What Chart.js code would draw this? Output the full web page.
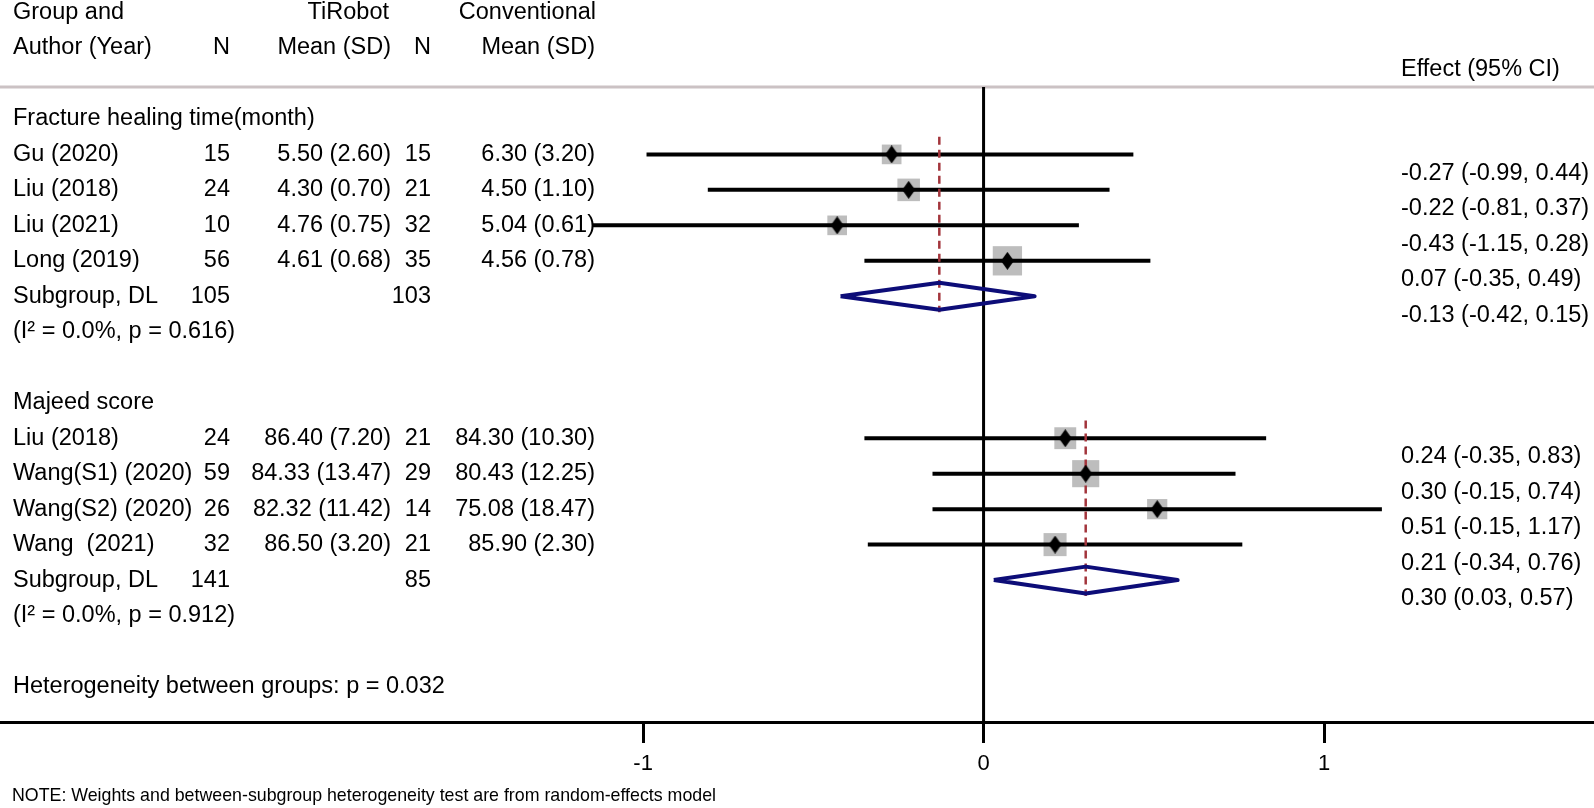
<!DOCTYPE html>
<html>
<head>
<meta charset="utf-8">
<script src="https://cdn.jsdelivr.net/npm/chart.js@4.4.1/dist/chart.umd.min.js"></script>
<style>
  html, body { margin: 0; padding: 0; background: #fff; }
  #wrap { width: 1594px; height: 808px; position: relative; }
</style>
</head>
<body>
<div id="wrap"><canvas id="forest"></canvas></div>
<script>
// datos
const groupNames = ['Fracture healing time(month)', 'Majeed score'];
const studyNames = [
    ['Gu (2020)', 'Liu (2018)', 'Liu (2021)', 'Long (2019)'],
    ['Liu (2018)', 'Wang(S1) (2020)', 'Wang(S2) (2020)', 'Wang  (2021)']
];
const nTiRobot = [[15, 24, 10, 56], [24, 59, 26, 32]];
const meanTiRobot = [[5.50, 4.30, 4.76, 4.61], [86.40, 84.33, 82.32, 86.50]];
const sdTiRobot = [[2.60, 0.70, 0.75, 0.68], [7.20, 13.47, 11.42, 3.20]];
const nConventional = [[15, 21, 32, 35], [21, 29, 14, 21]];
const meanConventional = [[6.30, 4.50, 5.04, 4.56], [84.30, 80.43, 75.08, 85.90]];
const sdConventional = [[3.20, 1.10, 0.61, 0.78], [10.30, 12.25, 18.47, 2.30]];
const effect = [[-0.27, -0.22, -0.43, 0.07], [0.24, 0.30, 0.51, 0.21]];
const ciLow = [[-0.99, -0.81, -1.15, -0.35], [-0.35, -0.15, -0.15, -0.34]];
const ciHigh = [[0.44, 0.37, 0.28, 0.49], [0.83, 0.74, 1.17, 0.76]];
const weights = [[15.7, 23.0, 15.7, 45.6], [21.2, 37.4, 17.0, 24.4]];
const subgroupN = [[105, 103], [141, 85]];
const pooled = [-0.13, 0.30];
const pooledLow = [-0.42, 0.03];
const pooledHigh = [0.15, 0.57];
const heterogeneity = ['(I\u00b2 = 0.0%, p = 0.616)', '(I\u00b2 = 0.0%, p = 0.912)'];
const betweenGroups = 'Heterogeneity between groups: p = 0.032';
const note = 'NOTE: Weights and between-subgroup heterogeneity test are from random-effects model';
const xTicks = [-1, 0, 1];

const FONT = '"Liberation Sans", Arial, Helvetica, sans-serif';
const f2 = v => v.toFixed(2);
const filaInicio = gi => 3 + gi * 8;

// rombo negro para el punto de cada estudio
function diamante(w, h) {
    const c = document.createElement('canvas');
    c.width = w; c.height = h;
    const g = c.getContext('2d');
    g.fillStyle = '#000';
    g.beginPath();
    g.moveTo(w / 2, 0); g.lineTo(w, h / 2); g.lineTo(w / 2, h); g.lineTo(0, h / 2);
    g.closePath();
    g.fill();
    return c;
}

let datasets = [];
let cuadros = [], radios = [], puntos = [];
groupNames.forEach((nombre, gi) => {
    const base = filaInicio(gi);
    effect[gi].forEach((e, i) => {
        const fila = base + 1 + i;
        datasets.push({
            data: [{ x: ciLow[gi][i], y: fila }, { x: ciHigh[gi][i], y: fila }],
            showLine: true, borderColor: '#000', borderWidth: 4, pointRadius: 0,
            borderCapStyle: 'butt', order: 2
        });
        cuadros.push({ x: e, y: fila });
        radios.push((6 + 3.45 * Math.sqrt(weights[gi][i])) / Math.SQRT2);
        puntos.push({ x: e, y: fila });
    });
    const fs = base + 5;
    // rombo del subgrupo
    datasets.push({
        data: [
            { x: pooledLow[gi], y: fs }, { x: pooled[gi], y: fs - 0.38 },
            { x: pooledHigh[gi], y: fs }, { x: pooled[gi], y: fs + 0.38 },
            { x: pooledLow[gi], y: fs }
        ],
        showLine: true, borderColor: '#0d0d78', borderWidth: 4, pointRadius: 0,
        borderJoinStyle: 'round', order: 1
    });
    // linea discontinua del estimado combinado
    datasets.push({
        data: [{ x: pooled[gi], y: base + 0.5 }, { x: pooled[gi], y: base + 5.45 }],
        showLine: true, borderColor: '#a3353c', borderWidth: 2.5, borderDash: [8, 5],
        pointRadius: 0, order: 1
    });
});
datasets.push({
    data: cuadros, pointStyle: 'rect', pointRadius: radios, backgroundColor: '#bdbdbd',
    pointBorderWidth: 0, borderWidth: 0, order: 4
});
datasets.push({
    data: puntos, pointStyle: diamante(13, 18), pointRadius: 9, order: 0
});
// linea vertical en cero
datasets.push({
    data: [{ x: 0, y: 2.1 }, { x: 0, y: 20 }],
    showLine: true, borderColor: '#000', borderWidth: 3, pointRadius: 0, order: 3
});

const textos = {
    id: 'textos',
    beforeDatasetsDraw(chart) {
        const ctx = chart.ctx, ys = chart.scales.y;
        const put = (t, x, fila, align) => {
            ctx.textAlign = align || 'left';
            ctx.fillText(t, x, ys.getPixelForValue(fila));
        };
        ctx.save();
        // linea gris bajo el encabezado
        ctx.strokeStyle = '#cbc2c4';
        ctx.lineWidth = 3;
        ctx.beginPath();
        ctx.moveTo(0, ys.getPixelForValue(2.1));
        ctx.lineTo(chart.width, ys.getPixelForValue(2.1));
        ctx.stroke();

        ctx.fillStyle = '#000';
        ctx.textBaseline = 'middle';
        ctx.font = `23.5px ${FONT}`;
        put('Group and', 13, 0);
        put('TiRobot', 389, 0, 'right');
        put('Conventional', 596, 0, 'right');
        put('Author (Year)', 13, 1);
        put('N', 230, 1, 'right');
        put('Mean (SD)', 391, 1, 'right');
        put('N', 431, 1, 'right');
        put('Mean (SD)', 595, 1, 'right');
        put('Effect (95% CI)', 1401, 1.6);

        groupNames.forEach((nombre, gi) => {
            const base = filaInicio(gi);
            put(nombre, 13, base);
            studyNames[gi].forEach((s, i) => {
                const fila = base + 1 + i;
                put(s, 13, fila);
                put(String(nTiRobot[gi][i]), 230, fila, 'right');
                put(`${f2(meanTiRobot[gi][i])} (${f2(sdTiRobot[gi][i])})`, 391, fila, 'right');
                put(String(nConventional[gi][i]), 431, fila, 'right');
                put(`${f2(meanConventional[gi][i])} (${f2(sdConventional[gi][i])})`, 595, fila, 'right');
                put(`${f2(effect[gi][i])} (${f2(ciLow[gi][i])}, ${f2(ciHigh[gi][i])})`, 1401, fila + 0.53);
            });
            put('Subgroup, DL', 13, base + 5);
            put(String(subgroupN[gi][0]), 230, base + 5, 'right');
            put(String(subgroupN[gi][1]), 431, base + 5, 'right');
            put(`${f2(pooled[gi])} (${f2(pooledLow[gi])}, ${f2(pooledHigh[gi])})`, 1401, base + 5.53);
            put(heterogeneity[gi], 13, base + 6);
        });
        put(betweenGroups, 13, 19);
        ctx.font = `17.8px ${FONT}`;
        put(note, 12, 22.1);
        ctx.restore();
    }
};

new Chart(document.getElementById('forest'), {
    type: 'scatter',
    data: { datasets: datasets },
    options: {
        responsive: true,
        maintainAspectRatio: false,
        animation: false,
        events: [],
        layout: { padding: 0, autoPadding: false },
        plugins: { legend: { display: false }, tooltip: { enabled: false } },
        scales: {
            x: {
                type: 'linear', position: 'bottom', min: -2.889, max: 1.793,
                afterBuildTicks: s => { s.ticks = xTicks.map(v => ({ value: v })); },
                afterFit: s => { s.height = 86; },
                grid: { drawOnChartArea: false, drawTicks: true, tickLength: 21, tickWidth: 3, color: '#000' },
                border: { display: true, color: '#000', width: 3 },
                ticks: {
                    color: '#000', font: { family: FONT, size: 22 }, padding: 8,
                    maxRotation: 0, autoSkip: false, callback: v => String(v)
                }
            },
            y: { type: 'linear', display: false, reverse: true, min: -0.352, max: 20 }
        }
    },
    plugins: [textos]
});
</script>
</body>
</html>
